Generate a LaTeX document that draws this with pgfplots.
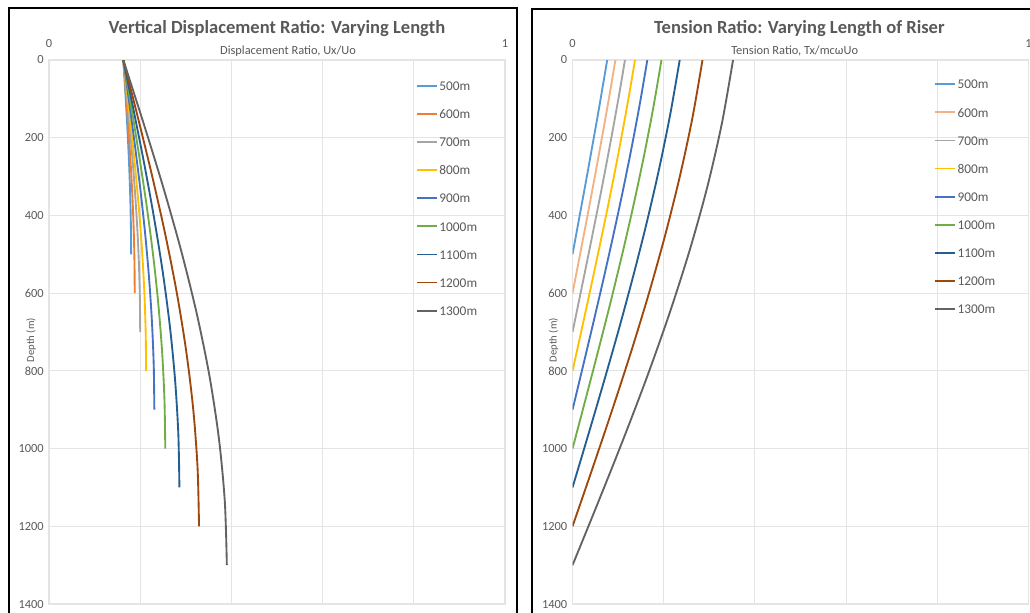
\documentclass[border=0pt]{standalone}
\usepackage{pgfplots}
\pgfplotsset{compat=1.18}
\usepackage{fontspec}
\setmainfont{Carlito}
\definecolor{txt}{HTML}{595959}
\definecolor{gridc}{HTML}{E4E4E4}
\definecolor{cA}{HTML}{5B9BD5}
\definecolor{cB}{HTML}{ED7D31}
\definecolor{cBl}{HTML}{F4B183}
\definecolor{cC}{HTML}{A5A5A5}
\definecolor{cD}{HTML}{FFC000}
\definecolor{cE}{HTML}{4472C4}
\definecolor{cF}{HTML}{70AD47}
\definecolor{cG}{HTML}{255E91}
\definecolor{cH}{HTML}{9E480E}
\definecolor{cI}{HTML}{636363}
\pgfplotsset{
 riser/.style={
  scale only axis, width=342pt, height=408pt,
  xmin=0, xmax=1, ymin=0, ymax=1400, y dir=reverse,
  xtick={0,1}, minor xtick={0.2,0.4,0.6,0.8}, ytick={0,200,...,1400},
  xticklabel pos=upper,
  major tick length=0pt, minor tick length=0pt,
  xmajorgrids, xminorgrids, ymajorgrids,
  grid style={draw=gridc, line width=0.8pt},
  minor grid style={draw=gridc, line width=0.8pt},
  axis line style={draw=gridc, line width=0.8pt},
  tick label style={font=\fontsize{9.3}{11}\selectfont, text=txt},
  /pgf/number format/assume math mode=true,
  /pgf/number format/1000 sep={},
  yticklabel style={inner sep=0pt, xshift=-3.75pt},
  xticklabel style={inner sep=0pt, anchor=base, yshift=9.75pt},
  legend style={draw=none, fill=none, font=\fontsize{10}{12}\selectfont, text=txt,
    row sep=14.07pt, inner sep=0pt,
    nodes={inner sep=0pt, inner xsep=1pt, text height=7pt, text depth=0pt}},
  legend cell align=left,
  legend image code/.code={\draw[##1, line width=1.4pt] (0pt,0pt) -- (15pt,0pt);},
  every axis plot/.append style={line width=1.4pt, smooth, no markers},
 }
}
\begin{document}
\begin{tikzpicture}
\useasboundingbox (0pt,0pt) rectangle (772.5pt,-459pt);
\begin{scope}
\clip (0pt,0pt) rectangle (772.5pt,-459pt);
\draw[line width=1.5pt] (6.75pt,-6pt) rectangle (387.75pt,-480pt);
\draw[line width=1.5pt] (399pt,-6.75pt) rectangle (800pt,-480pt);
\end{scope}

\begin{axis}[riser, at={(36.75pt,-453pt)}, anchor=south west,
  legend style={at={(0.8048,0.9615)}, anchor=north west}]
\addplot[cA] coordinates {(0.163,0) (0.1663,62.5) (0.1695,125) (0.1724,187.5) (0.1750,250) (0.1771,312.5) (0.1787,375) (0.1797,437.5) (0.180,500)};
\addplot[cB] coordinates {(0.163,0) (0.1679,75) (0.1726,150) (0.1769,225) (0.1807,300) (0.1838,375) (0.1861,450) (0.1875,525) (0.188,600)};
\addplot[cC] coordinates {(0.163,0) (0.1702,87.5) (0.1772,175) (0.1836,262.5) (0.1892,350) (0.1938,437.5) (0.1972,525) (0.1993,612.5) (0.200,700)};
\addplot[cD] coordinates {(0.163,0) (0.1728,100) (0.1821,200) (0.1908,300) (0.1984,400) (0.2046,500) (0.2092,600) (0.2120,700) (0.213,800)};
\addplot[cE] coordinates {(0.163,0) (0.1763,112.5) (0.1890,225) (0.2008,337.5) (0.2111,450) (0.2195,562.5) (0.2258,675) (0.2297,787.5) (0.231,900)};
\addplot[cF] coordinates {(0.163,0) (0.1810,125) (0.1982,250) (0.2141,375) (0.2281,500) (0.2395,625) (0.2480,750) (0.2532,875) (0.255,1000)};
\addplot[cG] coordinates {(0.163,0) (0.1870,137.5) (0.2101,275) (0.2313,412.5) (0.2500,550) (0.2653,687.5) (0.2766,825) (0.2836,962.5) (0.286,1100)};
\addplot[cH] coordinates {(0.163,0) (0.1954,150) (0.2265,300) (0.2552,450) (0.2804,600) (0.3010,750) (0.3164,900) (0.3258,1050) (0.329,1200)};
\addplot[cI] coordinates {(0.163,0) (0.2073,162.5) (0.2499,325) (0.2891,487.5) (0.3235,650) (0.3518,812.5) (0.3727,975) (0.3856,1137.5) (0.390,1300)};
\legend{500m,600m,700m,800m,900m,1000m,1100m,1200m,1300m}
\end{axis}

\begin{axis}[riser, at={(429.4pt,-453pt)}, anchor=south west,
  legend style={at={(0.7928,0.9645)}, anchor=north west}]
\addplot[cA] coordinates {(0.076,0) (0.0670,62.5) (0.0579,125) (0.0485,187.5) (0.0390,250) (0.0294,312.5) (0.0196,375) (0.0098,437.5) (0,500)};
\addplot[cBl] coordinates {(0.094,0) (0.0833,75) (0.0721,150) (0.0606,225) (0.0489,300) (0.0369,375) (0.0247,450) (0.0124,525) (0,600)};
\addplot[cC] coordinates {(0.115,0) (0.1024,87.5) (0.0890,175) (0.0751,262.5) (0.0607,350) (0.0458,437.5) (0.0307,525) (0.0154,612.5) (0,700)};
\addplot[cD] coordinates {(0.137,0) (0.1225,100) (0.1070,200) (0.0907,300) (0.0735,400) (0.0556,500) (0.0374,600) (0.0188,700) (0,800)};
\addplot[cE] coordinates {(0.164,0) (0.1476,112.5) (0.1296,225) (0.1102,337.5) (0.0896,450) (0.0681,562.5) (0.0458,675) (0.0230,787.5) (0,900)};
\addplot[cF] coordinates {(0.195,0) (0.1767,125) (0.1561,250) (0.1334,375) (0.1089,500) (0.0830,625) (0.0559,750) (0.0281,875) (0,1000)};
\addplot[cG] coordinates {(0.235,0) (0.2146,137.5) (0.1908,275) (0.1639,412.5) (0.1344,550) (0.1028,687.5) (0.0694,825) (0.0350,962.5) (0,1100)};
\addplot[cH] coordinates {(0.285,0) (0.2627,150) (0.2352,300) (0.2033,450) (0.1676,600) (0.1286,750) (0.0871,900) (0.0440,1050) (0,1200)};
\addplot[cI] coordinates {(0.352,0) (0.3276,162.5) (0.2959,325) (0.2574,487.5) (0.2132,650) (0.1643,812.5) (0.1116,975) (0.0564,1137.5) (0,1300)};
\legend{500m,600m,700m,800m,900m,1000m,1100m,1200m,1300m}
\end{axis}

\node[font=\bfseries\fontsize{13.9}{16}\selectfont, text=txt, anchor=base] at (207.75pt,-24.75pt) {Vertical Displacement Ratio: Varying Length};
\node[font=\bfseries\fontsize{13.9}{16}\selectfont, text=txt, anchor=base] at (599.5pt,-24.75pt) {Tension Ratio: Varying Length of Riser};
\node[font=\fontsize{9.3}{11}\selectfont, text=txt, anchor=base] at (216pt,-40.5pt) {Displacement Ratio, Ux/Uo};
\node[font=\fontsize{9.3}{11}\selectfont, text=txt, anchor=base] at (596pt,-40.5pt) {Tension Ratio, Tx/mcωUo};
\node[font=\fontsize{8}{10}\selectfont, text=txt, rotate=90] at (23.25pt,-255pt) {Depth (m)};
\node[font=\fontsize{8}{10}\selectfont, text=txt, rotate=90] at (415.1pt,-255pt) {Depth (m)};
\end{tikzpicture}
\end{document}
